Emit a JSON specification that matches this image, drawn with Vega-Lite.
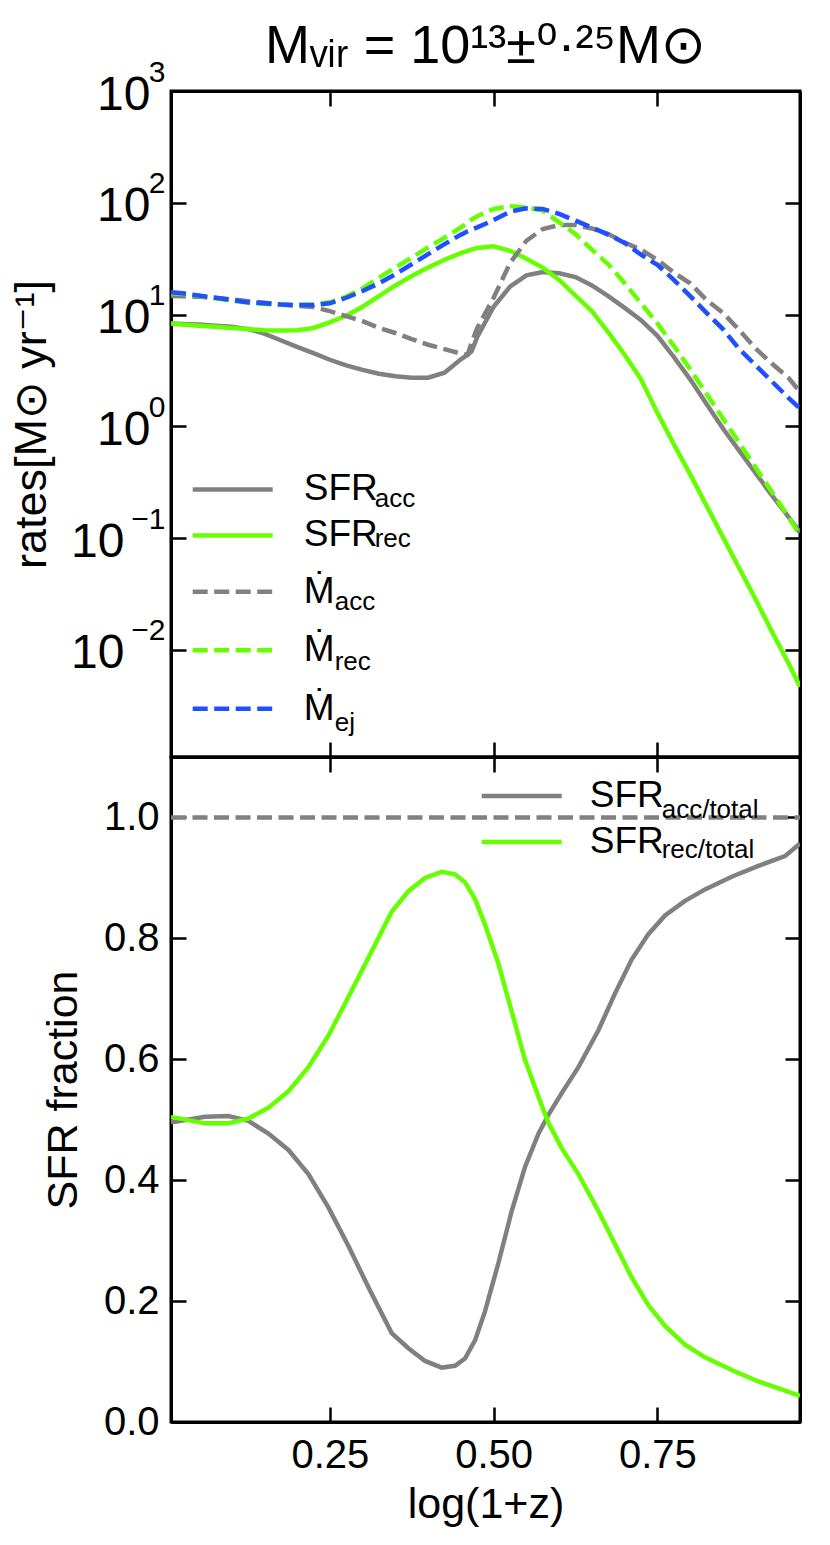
{
  "$schema": "https://vega.github.io/schema/vega-lite/v6.json",
  "background": "white",
  "padding": {"left": 8, "top": 18, "right": 10, "bottom": 10},
  "datasets": {
    "rates": [
      {"x": 0.0076, "SFR_acc": 8.32, "SFR_rec": 8.32, "M1_acc": 14.62, "M2_rec": 15.49, "M3_ej": 15.85},
      {"x": 0.025, "SFR_acc": 8.22, "SFR_rec": 8.13, "M1_acc": 14.55, "M2_rec": 15.31, "M3_ej": 15.49},
      {"x": 0.05, "SFR_acc": 8.13, "SFR_rec": 7.94, "M1_acc": 14.39, "M2_rec": 14.62, "M3_ej": 14.79},
      {"x": 0.075, "SFR_acc": 7.94, "SFR_rec": 7.76, "M1_acc": 14.13, "M2_rec": 13.96, "M3_ej": 14.13},
      {"x": 0.1, "SFR_acc": 7.76, "SFR_rec": 7.59, "M1_acc": 13.65, "M2_rec": 13.34, "M3_ej": 13.49},
      {"x": 0.125, "SFR_acc": 7.41, "SFR_rec": 7.41, "M1_acc": 13.18, "M2_rec": 12.74, "M3_ej": 12.88},
      {"x": 0.15, "SFR_acc": 6.76, "SFR_rec": 7.24, "M1_acc": 12.74, "M2_rec": 12.45, "M3_ej": 12.59},
      {"x": 0.175, "SFR_acc": 5.89, "SFR_rec": 7.19, "M1_acc": 12.3, "M2_rec": 12.25, "M3_ej": 12.3},
      {"x": 0.2, "SFR_acc": 5.13, "SFR_rec": 7.24, "M1_acc": 11.97, "M2_rec": 12.16, "M3_ej": 12.16},
      {"x": 0.225, "SFR_acc": 4.52, "SFR_rec": 7.59, "M1_acc": 11.7, "M2_rec": 12.3, "M3_ej": 12.16},
      {"x": 0.25, "SFR_acc": 3.94, "SFR_rec": 8.51, "M1_acc": 10.72, "M2_rec": 12.88, "M3_ej": 12.59},
      {"x": 0.275, "SFR_acc": 3.51, "SFR_rec": 9.77, "M1_acc": 9.66, "M2_rec": 14.45, "M3_ej": 14.13},
      {"x": 0.3, "SFR_acc": 3.2, "SFR_rec": 11.75, "M1_acc": 8.71, "M2_rec": 17.18, "M3_ej": 16.22},
      {"x": 0.325, "SFR_acc": 2.95, "SFR_rec": 14.62, "M1_acc": 7.59, "M2_rec": 21.38, "M3_ej": 19.05},
      {"x": 0.35, "SFR_acc": 2.8, "SFR_rec": 18.2, "M1_acc": 6.84, "M2_rec": 26.3, "M3_ej": 22.91},
      {"x": 0.375, "SFR_acc": 2.72, "SFR_rec": 22.08, "M1_acc": 6.03, "M2_rec": 32.36, "M3_ej": 28.18},
      {"x": 0.4, "SFR_acc": 2.72, "SFR_rec": 26.3, "M1_acc": 5.37, "M2_rec": 39.81, "M3_ej": 34.67},
      {"x": 0.425, "SFR_acc": 3.02, "SFR_rec": 30.9, "M1_acc": 4.9, "M2_rec": 48.64, "M3_ej": 42.66},
      {"x": 0.45, "SFR_acc": 3.98, "SFR_rec": 35.48, "M1_acc": 4.47, "M2_rec": 60.26, "M3_ej": 51.88},
      {"x": 0.4604, "SFR_acc": 4.37, "SFR_rec": 37.15, "M1_acc": 4.37, "M2_rec": 66.07, "M3_ej": 55.59},
      {"x": 0.4665, "SFR_acc": 4.7, "SFR_rec": 38.28, "M1_acc": 5.62, "M2_rec": 70.79, "M3_ej": 57.54},
      {"x": 0.475, "SFR_acc": 6.31, "SFR_rec": 39.36, "M1_acc": 7.59, "M2_rec": 75.86, "M3_ej": 60.26},
      {"x": 0.5, "SFR_acc": 11.75, "SFR_rec": 40.74, "M1_acc": 14.13, "M2_rec": 88.1, "M3_ej": 69.98},
      {"x": 0.525, "SFR_acc": 17.78, "SFR_rec": 37.15, "M1_acc": 28.84, "M2_rec": 93.33, "M3_ej": 83.18},
      {"x": 0.55, "SFR_acc": 22.39, "SFR_rec": 31.62, "M1_acc": 45.71, "M2_rec": 91.2, "M3_ej": 89.13},
      {"x": 0.575, "SFR_acc": 23.99, "SFR_rec": 26.3, "M1_acc": 58.21, "M2_rec": 85.11, "M3_ej": 88.1},
      {"x": 0.6, "SFR_acc": 23.44, "SFR_rec": 20.42, "M1_acc": 63.1, "M2_rec": 66.83, "M3_ej": 79.43},
      {"x": 0.625, "SFR_acc": 21.63, "SFR_rec": 14.79, "M1_acc": 63.1, "M2_rec": 52.48, "M3_ej": 69.18},
      {"x": 0.65, "SFR_acc": 18.2, "SFR_rec": 10.72, "M1_acc": 58.88, "M2_rec": 38.02, "M3_ej": 59.98},
      {"x": 0.675, "SFR_acc": 14.62, "SFR_rec": 6.92, "M1_acc": 52.48, "M2_rec": 28.18, "M3_ej": 51.88},
      {"x": 0.7, "SFR_acc": 11.48, "SFR_rec": 4.37, "M1_acc": 44.16, "M2_rec": 19.05, "M3_ej": 43.65},
      {"x": 0.725, "SFR_acc": 8.91, "SFR_rec": 2.63, "M1_acc": 38.02, "M2_rec": 12.59, "M3_ej": 34.28},
      {"x": 0.75, "SFR_acc": 6.46, "SFR_rec": 1.318, "M1_acc": 30.9, "M2_rec": 8.32, "M3_ej": 27.86},
      {"x": 0.775, "SFR_acc": 4.17, "SFR_rec": 0.692, "M1_acc": 23.71, "M2_rec": 5.25, "M3_ej": 20.42},
      {"x": 0.8, "SFR_acc": 2.63, "SFR_rec": 0.372, "M1_acc": 19.05, "M2_rec": 3.24, "M3_ej": 14.62},
      {"x": 0.825, "SFR_acc": 1.585, "SFR_rec": 0.195, "M1_acc": 13.49, "M2_rec": 1.95, "M3_ej": 10.35},
      {"x": 0.85, "SFR_acc": 0.955, "SFR_rec": 0.102, "M1_acc": 10.35, "M2_rec": 1.175, "M3_ej": 7.41},
      {"x": 0.875, "SFR_acc": 0.603, "SFR_rec": 0.0537, "M1_acc": 7.24, "M2_rec": 0.708, "M3_ej": 4.9},
      {"x": 0.9, "SFR_acc": 0.38, "SFR_rec": 0.0282, "M1_acc": 4.95, "M2_rec": 0.427, "M3_ej": 3.51},
      {"x": 0.925, "SFR_acc": 0.24, "SFR_rec": 0.01445, "M1_acc": 3.63, "M2_rec": 0.257, "M3_ej": 2.51},
      {"x": 0.95, "SFR_acc": 0.155, "SFR_rec": 0.00759, "M1_acc": 2.72, "M2_rec": 0.155, "M3_ej": 1.8},
      {"x": 0.9676, "SFR_acc": 0.112, "SFR_rec": 0.00468, "M1_acc": 2.04, "M2_rec": 0.105, "M3_ej": 1.445}
    ],
    "fractions": [
      {"x": 0.0076, "F_acc/total": 0.496, "F_rec/total": 0.504},
      {"x": 0.0163, "F_acc/total": 0.497, "F_rec/total": 0.503},
      {"x": 0.0595, "F_acc/total": 0.505, "F_rec/total": 0.494},
      {"x": 0.0952, "F_acc/total": 0.506, "F_rec/total": 0.494},
      {"x": 0.1257, "F_acc/total": 0.498, "F_rec/total": 0.502},
      {"x": 0.1563, "F_acc/total": 0.477, "F_rec/total": 0.52},
      {"x": 0.1868, "F_acc/total": 0.45, "F_rec/total": 0.547},
      {"x": 0.2173, "F_acc/total": 0.41, "F_rec/total": 0.587},
      {"x": 0.2478, "F_acc/total": 0.355, "F_rec/total": 0.639},
      {"x": 0.2784, "F_acc/total": 0.291, "F_rec/total": 0.703},
      {"x": 0.3089, "F_acc/total": 0.223, "F_rec/total": 0.768},
      {"x": 0.3444, "F_acc/total": 0.147, "F_rec/total": 0.844},
      {"x": 0.3699, "F_acc/total": 0.122, "F_rec/total": 0.878},
      {"x": 0.3953, "F_acc/total": 0.101, "F_rec/total": 0.9},
      {"x": 0.4208, "F_acc/total": 0.09, "F_rec/total": 0.91},
      {"x": 0.441, "F_acc/total": 0.093, "F_rec/total": 0.906},
      {"x": 0.4563, "F_acc/total": 0.105, "F_rec/total": 0.893},
      {"x": 0.4716, "F_acc/total": 0.135, "F_rec/total": 0.865},
      {"x": 0.4868, "F_acc/total": 0.183, "F_rec/total": 0.823},
      {"x": 0.5073, "F_acc/total": 0.263, "F_rec/total": 0.758},
      {"x": 0.5276, "F_acc/total": 0.349, "F_rec/total": 0.679},
      {"x": 0.5479, "F_acc/total": 0.422, "F_rec/total": 0.599},
      {"x": 0.5684, "F_acc/total": 0.477, "F_rec/total": 0.538},
      {"x": 0.5836, "F_acc/total": 0.508, "F_rec/total": 0.495},
      {"x": 0.6039, "F_acc/total": 0.544, "F_rec/total": 0.453},
      {"x": 0.6294, "F_acc/total": 0.587, "F_rec/total": 0.41},
      {"x": 0.6599, "F_acc/total": 0.648, "F_rec/total": 0.349},
      {"x": 0.6853, "F_acc/total": 0.709, "F_rec/total": 0.294},
      {"x": 0.7107, "F_acc/total": 0.765, "F_rec/total": 0.239},
      {"x": 0.7362, "F_acc/total": 0.807, "F_rec/total": 0.193},
      {"x": 0.7616, "F_acc/total": 0.838, "F_rec/total": 0.159},
      {"x": 0.7921, "F_acc/total": 0.862, "F_rec/total": 0.128},
      {"x": 0.8226, "F_acc/total": 0.881, "F_rec/total": 0.107},
      {"x": 0.8634, "F_acc/total": 0.902, "F_rec/total": 0.086},
      {"x": 0.9041, "F_acc/total": 0.92, "F_rec/total": 0.067},
      {"x": 0.9447, "F_acc/total": 0.936, "F_rec/total": 0.052},
      {"x": 0.9676, "F_acc/total": 0.957, "F_rec/total": 0.043}
    ],
    "total": [
      {"x": 0.0076, "total": 1.0},
      {"x": 0.9676, "total": 1.0}
    ]
  },
  "vconcat": [
    {
      "width": 629,
      "height": 666,
      "title": {
        "text": "Mᵥᵢᵣ = 10¹³±⁰·²⁵M⊙",
        "fontSize": 54,
        "fontWeight": "normal",
        "font": "Liberation Sans, DejaVu Sans",
        "frame": "group",
        "anchor": "middle",
        "offset": -17,
        "color": "black"
      },
      "layer": [
        {
          "data": {"name": "rates"},
          "transform": [{"fold": ["SFR_acc", "SFR_rec"], "as": ["series", "v"]}],
          "mark": {"type": "line", "strokeWidth": 4.5, "clip": true},
          "encoding": {
            "x": {
              "field": "x", "type": "quantitative",
              "scale": {"domain": [0.0076, 0.9676], "nice": false, "zero": false},
              "axis": {"orient": "bottom", "values": [0.25, 0.5, 0.75], "labels": false, "title": null, "tickSize": -15}
            },
            "y": {
              "field": "v", "type": "quantitative",
              "scale": {"type": "log", "domain": [0.0011, 1000], "nice": false},
              "axis": {
                "orient": "left",
                "values": [0.01, 0.1, 1, 10, 100, 1000],
                "labelExpr": "'10'",
                "labelFontSize": 48,
                "labelOffset": 4,
                "labelPadding": {"condition": {"test": "datum.value < 0.5", "value": 62}, "value": 36},
                "title": "rates[M⊙ yr⁻¹]",
                "titleFontSize": 45,
                "titlePadding": 16,
                "tickSize": -15
              }
            },
            "color": {
              "field": "series", "type": "nominal",
              "scale": {"domain": ["SFR_acc", "SFR_rec"], "range": ["#808080", "#66ff00"]},
              "legend": {
                "orient": "none", "legendX": 43.2, "legendY": 379.9,
                "title": null, "symbolType": "M-4,0H4", "symbolSize": 400, "symbolStrokeWidth": 4.5,
                "labelExpr": "'SFR'", "labelFontSize": 37, "labelOffset": 52.5, "rowPadding": 8, "padding": 0
              }
            },
            "opacity": {
              "field": "series", "type": "nominal",
              "scale": {"range": [1, 1]},
              "legend": {
                "orient": "none", "legendX": 177.7, "legendY": 403.4,
                "title": null, "symbolType": "circle", "symbolSize": 0, "symbolStrokeWidth": 0,
                "symbolFillColor": "transparent", "symbolStrokeColor": "transparent",
                "labelExpr": "split(datum.label, '_')[1]", "labelFontSize": 26, "labelBaseline": "alphabetic",
                "labelOffset": 0, "rowPadding": 14, "padding": 0
              }
            }
          }
        },
        {
          "data": {"name": "rates"},
          "transform": [{"fold": ["M1_acc", "M2_rec", "M3_ej"], "as": ["series", "v"]}],
          "mark": {"type": "line", "clip": true},
          "encoding": {
            "x": {
              "field": "x", "type": "quantitative",
              "axis": {"orient": "top", "values": [0.25, 0.5, 0.75], "labels": false, "title": null, "tickSize": -15}
            },
            "y": {
              "field": "v", "type": "quantitative",
              "axis": {"orient": "right", "values": [0.01, 0.1, 1, 10, 100, 1000], "labels": false, "title": null, "tickSize": -15}
            },
            "stroke": {
              "field": "series", "type": "nominal",
              "scale": {"domain": ["M1_acc", "M2_rec", "M3_ej"], "range": ["#808080", "#66ff00", "#1f4fff"]},
              "legend": {
                "orient": "none", "legendX": 43.2, "legendY": 482.2,
                "title": null, "symbolType": "M-4,0H4", "symbolSize": 400, "symbolStrokeWidth": 4.5,
                "labelExpr": "'Ṁ'", "labelFontSize": 37, "labelOffset": 52.5, "rowPadding": 20.5, "padding": 0
              }
            },
            "strokeDash": {
              "field": "series", "type": "nominal",
              "scale": {"domain": ["M1_acc", "M2_rec", "M3_ej"], "range": [[15, 6.5], [15, 6.5], [15, 6.5]]},
              "legend": null
            },
            "strokeWidth": {
              "field": "series", "type": "nominal",
              "scale": {"range": [4.5, 4.5, 4.5]},
              "legend": {
                "orient": "none", "legendX": 137.7, "legendY": 505.7,
                "title": null, "symbolType": "circle", "symbolSize": 0, "symbolStrokeWidth": 0,
                "symbolFillColor": "transparent", "symbolStrokeColor": "transparent",
                "labelExpr": "split(datum.label, '_')[1]", "labelFontSize": 26, "labelBaseline": "alphabetic",
                "labelOffset": 0, "rowPadding": 30.5, "padding": 0
              }
            }
          }
        },
        {
          "data": {"name": "rates"},
          "mark": {"type": "point", "opacity": 0},
          "encoding": {
            "x": {"field": "x", "type": "quantitative", "axis": null},
            "y": {
              "field": "SFR_acc", "type": "quantitative",
              "axis": {
                "orient": "left",
                "values": [0.01, 0.1, 1, 10, 100, 1000],
                "labelExpr": "datum.value < 0.05 ? '−2' : datum.value < 0.5 ? '−1' : datum.value < 5 ? '0' : datum.value < 50 ? '1' : datum.value < 500 ? '2' : '3'",
                "labelFontSize": 30,
                "labelOffset": -19,
                "labelPadding": 6,
                "ticks": false,
                "domain": false,
                "title": null
              }
            }
          }
        }
      ],
      "resolve": {"axis": {"x": "independent", "y": "independent"}}
    },
    {
      "width": 629,
      "height": 665,
      "layer": [
        {
          "data": {"name": "fractions"},
          "transform": [{"fold": ["F_acc/total", "F_rec/total"], "as": ["series", "f"]}],
          "mark": {"type": "line", "strokeWidth": 4.5, "clip": true},
          "encoding": {
            "x": {
              "field": "x", "type": "quantitative",
              "scale": {"domain": [0.0076, 0.9676], "nice": false, "zero": false},
              "axis": {"orient": "bottom", "values": [0.25, 0.5, 0.75], "format": ".2f", "title": "log(1+z)", "tickSize": -15, "labelPadding": 28, "titlePadding": 8}
            },
            "y": {
              "field": "f", "type": "quantitative",
              "scale": {"domain": [0, 1.1], "nice": false},
              "axis": {"orient": "left", "values": [0, 0.2, 0.4, 0.6, 0.8, 1.0], "format": ".1f", "title": "SFR fraction", "tickSize": -15, "labelPadding": 27}
            },
            "color": {
              "field": "series", "type": "nominal",
              "scale": {"domain": ["F_acc/total", "F_rec/total"], "range": ["#808080", "#66ff00"]},
              "legend": {
                "orient": "none", "legendX": 332.2, "legendY": 20.5,
                "title": null, "symbolType": "M-4,0H4", "symbolSize": 400, "symbolStrokeWidth": 4.5,
                "labelExpr": "'SFR'", "labelFontSize": 37, "labelOffset": 49.5, "rowPadding": 8, "padding": 0
              }
            },
            "opacity": {
              "field": "series", "type": "nominal",
              "scale": {"range": [1, 1]},
              "legend": {
                "orient": "none", "legendX": 464.7, "legendY": 48,
                "title": null, "symbolType": "circle", "symbolSize": 0, "symbolStrokeWidth": 0,
                "symbolFillColor": "transparent", "symbolStrokeColor": "transparent",
                "labelExpr": "split(datum.label, '_')[1]", "labelFontSize": 26, "labelBaseline": "alphabetic",
                "labelOffset": 0, "rowPadding": 14, "padding": 0
              }
            }
          }
        },
        {
          "data": {"name": "total"},
          "mark": {"type": "line", "strokeWidth": 4.5, "color": "#808080", "strokeDash": [15, 6.5]},
          "encoding": {
            "x": {
              "field": "x", "type": "quantitative",
              "axis": {"orient": "top", "values": [0.25, 0.5, 0.75], "labels": false, "title": null, "tickSize": -15}
            },
            "y": {
              "field": "total", "type": "quantitative",
              "axis": {"orient": "right", "values": [0, 0.2, 0.4, 0.6, 0.8, 1.0], "labels": false, "title": null, "tickSize": -15}
            }
          }
        }
      ],
      "resolve": {"axis": {"x": "independent", "y": "independent"}}
    }
  ],
  "spacing": 0,
  "bounds": "flush",
  "resolve": {
    "scale": {"color": "independent", "opacity": "independent", "stroke": "independent", "strokeDash": "independent", "strokeWidth": "independent"}
  },
  "config": {
    "font": "Liberation Sans, DejaVu Sans",
    "view": {"stroke": "black", "strokeWidth": 3},
    "axis": {
      "grid": false,
      "domain": true,
      "domainColor": "black",
      "domainWidth": 3,
      "ticks": true,
      "tickColor": "black",
      "tickWidth": 2.5,
      "labelFontSize": 40,
      "labelColor": "black",
      "labelFont": "Liberation Sans, DejaVu Sans",
      "labelOverlap": false,
      "labelFlush": false,
      "titleFontSize": 43,
      "titleFontWeight": "normal",
      "titleColor": "black",
      "titleFont": "Liberation Sans, DejaVu Sans",
      "titlePadding": 18
    },
    "legend": {
      "labelColor": "black",
      "labelFont": "Liberation Sans, DejaVu Sans",
      "labelLimit": 0
    }
  }
}
